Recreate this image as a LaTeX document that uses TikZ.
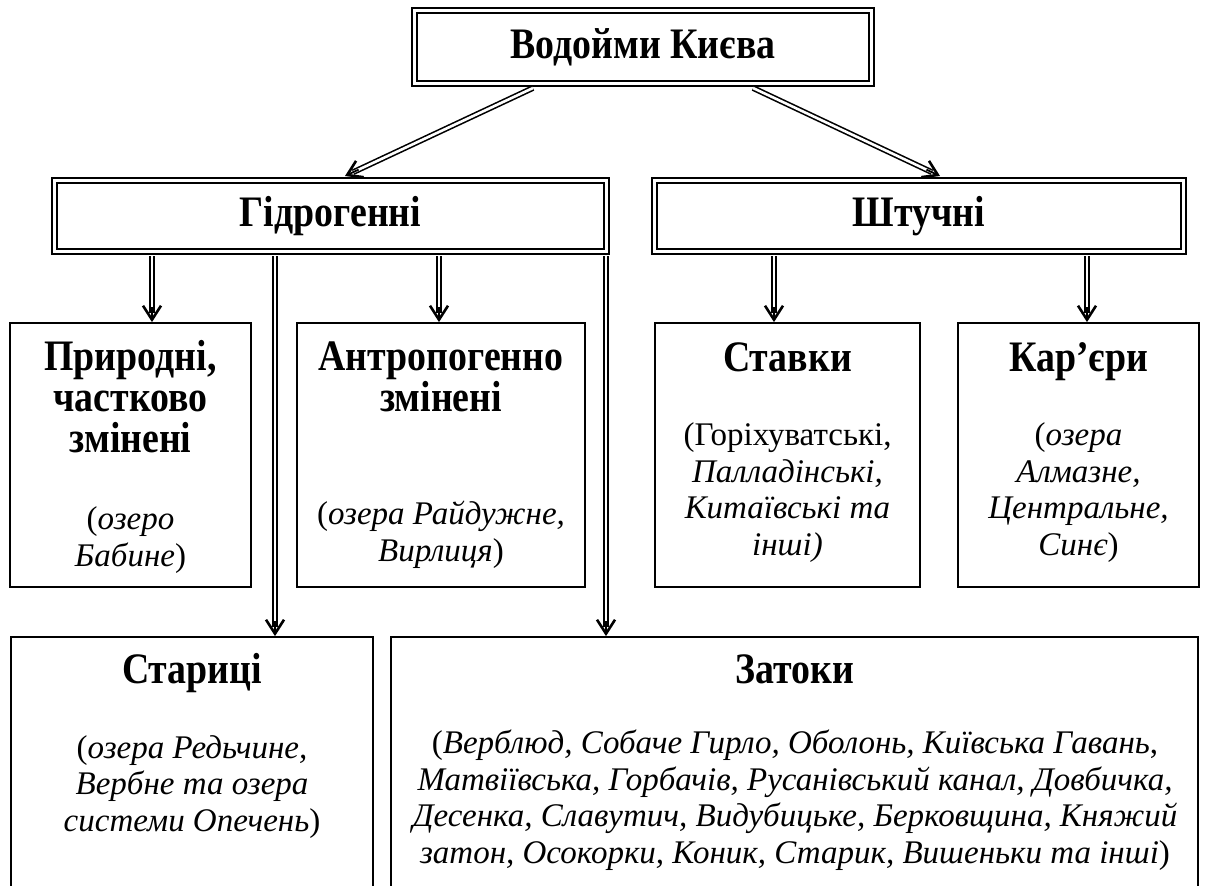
\documentclass[tikz,border=0pt]{standalone}
\usepackage{fontspec}
\setmainfont{Liberation Serif}
\newfontfamily\ttlfont{Liberation Serif}[FakeStretch=0.87]
\usetikzlibrary{arrows.meta,calc}
\tikzset{
  dbox/.style={draw, double, line width=2pt, double distance=2.8pt, inner sep=0pt},
  sbox/.style={draw, line width=1.8pt, inner sep=0pt},
  ttl/.style={font=\fontsize{43.5}{41}\ttlfont\bfseries, align=center, inner sep=0pt},
  det/.style={font=\fontsize{33}{36.5}\selectfont, align=center, inner sep=0pt},
  shaft/.style={double, line width=1.6pt, double distance=2.6pt, shorten >=9pt},
  tipline/.style={line width=1.8pt, -{Straight Barb[length=14pt,width=18pt,line width=2.6pt]}}
}
\newcommand\dblarrow[2]{%
  \draw[shaft] (#1) -- (#2);
  \draw[tipline] ($(#2)!15pt!(#1)$) -- (#2);}
\begin{document}
\begin{tikzpicture}[x=1pt,y=-1pt]
\useasboundingbox (0,0) rectangle (1210,886);
\clip (0,0) rectangle (1210,886);
% level 0
\node[dbox, ttl, minimum width=457pt, minimum height=73pt] (top) at (643,47) {Водойми Києва};
% level 1
\node[dbox, ttl, minimum width=552pt, minimum height=71pt] (hyd) at (330.5,216) {Гідрогенні};
\node[dbox, ttl, minimum width=529pt, minimum height=71pt] (sht) at (919,216) {Штучні};
% level 2
\node[sbox, minimum width=241pt, minimum height=264pt] (pr) at (130.5,455) {};
\node[sbox, minimum width=288pt, minimum height=264pt] (an) at (441,455) {};
\node[sbox, minimum width=265pt, minimum height=264pt] (st) at (787.5,455) {};
\node[sbox, minimum width=241pt, minimum height=264pt] (kr) at (1078.5,455) {};
% level 3
\node[sbox, minimum width=362pt, minimum height=300pt] (sr) at (192,787) {};
\node[sbox, minimum width=807pt, minimum height=300pt] (zt) at (794.5,787) {};
% texts
\node[ttl, anchor=base] (prT) at (130.5,452) {Природні,\\частково\\змінені};
\node[det, anchor=base] (prD) at (130.5,566) {(\textit{озеро}\\\textit{Бабине})};
\node[ttl, anchor=base] (anT) at (441,411) {Антропогенно\\змінені};
\node[det, anchor=base] (anD) at (441,561) {(\textit{озера Райдужне,}\\\textit{Вирлиця})};
\node[ttl, anchor=base] (stT) at (787.5,371) {Ставки};
\node[det, anchor=base] (stD) at (787.5,555) {(Горіхуватські,\\\textit{Палладінські,}\\\textit{Китаївські та}\\\textit{інші)}};
\node[ttl, anchor=base] (krT) at (1078.5,371) {Кар’єри};
\node[det, anchor=base] (krD) at (1078.5,555) {(\textit{озера}\\\textit{Алмазне,}\\\textit{Центральне,}\\\textit{Синє})};
\node[ttl, anchor=base] (srT) at (192,683) {Стариці};
\node[det, anchor=base] (srD) at (192,831) {(\textit{озера Редьчине,}\\\textit{Вербне та озера}\\\textit{системи Опечень})};
\node[ttl, anchor=base] (ztT) at (795,683) {Затоки};
\node[det, anchor=base] (ztD) at (795,863) {(\textit{Верблюд, Собаче Гирло, Оболонь, Київська Гавань},\\\textit{Матвіївська, Горбачів, Русанівський канал, Довбичка,}\\\textit{Десенка, Славутич, Видубицьке, Берковщина, Княжий}\\\textit{затон, Осокорки, Коник, Старик, Вишеньки та інші})};
% connector end points
\coordinate (d1s) at ([xshift=-110pt,yshift=-3.5pt]top.south);
\coordinate (d1e) at ([xshift=14.5pt,yshift=3.5pt]hyd.north);
\coordinate (d2s) at ([xshift=110pt,yshift=-3.5pt]top.south);
\coordinate (d2e) at ([xshift=21pt,yshift=3.5pt]sht.north);
\coordinate (v1s) at ([xshift=-178.5pt,yshift=-3.5pt]hyd.south);
\coordinate (v2s) at ([xshift=-55.5pt,yshift=-3.5pt]hyd.south);
\coordinate (v3s) at ([xshift=108.5pt,yshift=-3.5pt]hyd.south);
\coordinate (v4s) at ([xshift=275.5pt,yshift=-3.5pt]hyd.south);
\coordinate (v5s) at ([xshift=-145pt,yshift=-3.5pt]sht.south);
\coordinate (v6s) at ([xshift=168pt,yshift=-3.5pt]sht.south);
\coordinate (v1e) at (v1s |- pr.north);
\coordinate (v2e) at (v2s |- sr.north);
\coordinate (v3e) at (v3s |- an.north);
\coordinate (v4e) at (v4s |- zt.north);
\coordinate (v5e) at (v5s |- st.north);
\coordinate (v6e) at (v6s |- kr.north);
% connectors
\dblarrow{d1s}{d1e}
\dblarrow{d2s}{d2e}
\dblarrow{v1s}{v1e}
\dblarrow{v2s}{v2e}
\dblarrow{v3s}{v3e}
\dblarrow{v4s}{v4e}
\dblarrow{v5s}{v5e}
\dblarrow{v6s}{v6e}
\end{tikzpicture}
\end{document}
